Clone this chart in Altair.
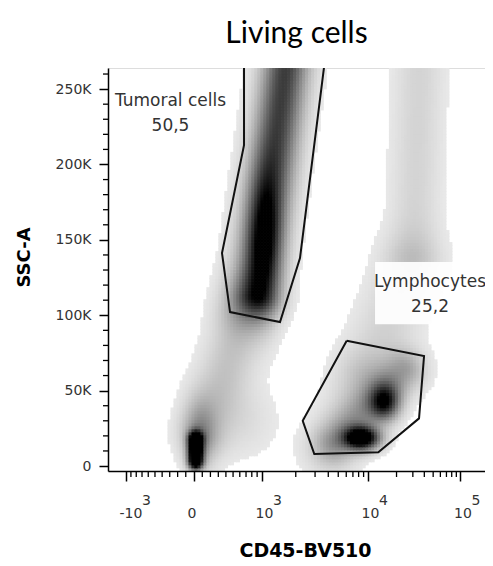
import numpy as np
import pandas as pd
import altair as alt

alt.data_transformers.disable_max_rows()

# ---------------- values ----------------
# CD45 axis (biexponential display), raw values
x_domain_raw = [-1450, 187100]
y_domain = [-3300, 264000]
x_major_raw = [-1000, 0, 1000, 10000, 100000]
x_major_base = ["-10", "0", "10", "10", "10"]
x_major_exp = ["3", "", "3", "4", "5"]
x_minor_raw = ([-900, -800, -700, -600, -500, -400, -300, -200, -100,
                100, 200, 300, 400, 500, 600, 700, 800, 900]
               + [2000, 3000, 4000, 5000, 6000, 7000, 8000, 9000]
               + [20000, 30000, 40000, 50000, 60000, 70000, 80000, 90000])
y_major = [0, 50000, 100000, 150000, 200000, 250000]
y_minor = [v for v in range(10000, 270000, 10000) if v % 50000 != 0]

# density components (capsules): end points in raw units, spread (display decades / SSC), weight
comp_x1 = [24, 73, 134, 1671, 1065, 1777, 35900, 27970, 9310, 8668, 15070, 4648, 683]
comp_y1 = [17200, 20550, 23900, 272500, 150000, 275800, 275800, 133300, 57000, 18600, 42400, 15900, 30500]
comp_x2 = [24, 73, 768, 917, 1065, 683, 30900, 10490, 4157, 8668, 15070, 24690, 683]
comp_y2 = [4000, 20550, 110100, 113400, 150000, 103400, 143200, 63600, 10600, 18600, 42400, 63600, 30500]
comp_sx = [0.055, 0.123, 0.2, 0.168, 0.123, 0.2, 0.19, 0.246, 0.224, 0.134, 0.112, 0.156, 0.246]
comp_sy = [4000, 15900, 12000, 9300, 30000, 12000, 13260, 14600, 13260, 5300, 8000, 9300, 16600]
comp_w = [1.5, 0.3, 0.18, 0.58, 0.45, 0.17, 0.11, 0.12, 0.1, 1.2, 0.75, 0.3, 0.07]

# gates
tum_gate_x = [667, 667, 348, 457, 1449, 2183, 3806, 667]
tum_gate_y = [275000, 212800, 141200, 102100, 95500, 137900, 275000, 275000]
lym_gate_x = [6061, 39720, 35030, 12810, 2951, 2310, 6061]
lym_gate_y = [83100, 72900, 31600, 9080, 7960, 30030, 83100]

# gate labels
label_name = ["Tumoral cells", "Lymphocytes"]
label_value = ["50,5", "25,2"]
label_x = [-290, 46210]
label_y = [238700, 118700]
box_x1, box_x2, box_y1, box_y2 = [11830], [212800], [94100], [135300]

# ---------------- biexponential (logicle-like) transform ----------------
P = 3.5


def g(u):
    return 10 ** u - P * P * 10 ** (-u / P) + P * P - 1


C = 1000.0 / g(0.76)


def to_disp(x):
    x = np.asarray(x, dtype=float)
    s = np.sign(x)
    a = np.abs(x) / C
    lo = np.zeros_like(a)
    hi = np.full_like(a, 6.0)
    for _ in range(60):
        mid = (lo + hi) / 2
        big = g(mid) > a
        hi = np.where(big, mid, hi)
        lo = np.where(big, lo, mid)
    return s * (lo + hi) / 2


U0, U1 = [float(v) for v in to_disp(x_domain_raw)]
Y0, Y1 = y_domain

# ---------------- density grid ----------------
nx, ny = 126, 134
ue = np.linspace(U0, U1, nx + 1)
ye = np.linspace(Y0, Y1, ny + 1)
uc = (ue[:-1] + ue[1:]) / 2
yc = (ye[:-1] + ye[1:]) / 2
UU, YY = np.meshgrid(uc, yc)
F = np.zeros_like(UU)
a_u = to_disp(comp_x1)
b_u = to_disp(comp_x2)
for i in range(len(comp_w)):
    sx, sy = comp_sx[i], comp_sy[i]
    px, py = UU / sx, YY / sy
    ax, ay = a_u[i] / sx, comp_y1[i] / sy
    bx, by = b_u[i] / sx, comp_y2[i] / sy
    dx, dy = bx - ax, by - ay
    L2 = dx * dx + dy * dy
    if L2 > 0:
        t = np.clip(((px - ax) * dx + (py - ay) * dy) / L2, 0, 1)
    else:
        t = np.zeros_like(px)
    d2 = (px - ax - t * dx) ** 2 + (py - ay - t * dy) ** 2
    F += comp_w[i] * np.exp(-d2 / 2)

du = (U1 - U0) / nx
dyc = (Y1 - Y0) / ny
mask = F >= 0.025
dens = pd.DataFrame({
    "x0": np.round(UU[mask] - du * 0.62, 5),
    "x1": np.round(UU[mask] + du * 0.62, 5),
    "y0": np.round(YY[mask] - dyc * 0.62, 1),
    "y1": np.round(YY[mask] + dyc * 0.62, 1),
    "d": np.round(F[mask], 3),
})

xs = alt.Scale(domain=[U0, U1], nice=False, zero=False)
ys = alt.Scale(domain=[Y0, Y1], nice=False, zero=False)

# x axis labels (base part; exponents drawn as text)
u_major = to_disp(x_major_raw)
expr = f"'{x_major_base[-1]}'"
for i in reversed(range(len(x_major_base) - 1)):
    thr = (u_major[i] + u_major[i + 1]) / 2
    expr = f"datum.value < {thr:.4f} ? '{x_major_base[i]}' : ({expr})"

x_axis = alt.Axis(values=[float(v) for v in u_major], labelExpr=expr, labelAlign="left",
                  labelOffset=-7, labelBaseline="alphabetic", labelPadding=36,
                  labelFont="DejaVu Sans", labelFontSize=14, labelColor="#333",
                  labelOverlap=False, labelFlush=False,
                  tickSize=10, tickWidth=1.5, tickColor="black",
                  domainColor="black", domainWidth=1.5, grid=False, zindex=2,
                  title="CD45-BV510", titleFont="DejaVu Sans", titleFontSize=19,
                  titleFontWeight="bold", titleColor="black", titleX=197, titleY=79,
                  titleAlign="center", titleBaseline="middle")
y_axis = alt.Axis(values=y_major,
                  labelExpr="datum.value == 0 ? '0' : format(datum.value/1000, 'd') + 'K'",
                  labelFont="DejaVu Sans", labelFontSize=14, labelColor="#333",
                  labelPadding=8, tickSize=9, tickWidth=1.5, tickColor="black",
                  domainColor="black", domainWidth=1.5, grid=False, zindex=2,
                  title="SSC-A", titleFont="DejaVu Sans", titleFontSize=18,
                  titleFontWeight="bold", titleColor="black", titleX=-84, titleY=189,
                  titleAngle=270, titleAlign="center", titleBaseline="middle")

density = alt.Chart(dens).mark_rect(clip=True, strokeWidth=0).encode(
    x=alt.X("x0:Q", scale=xs, axis=x_axis),
    x2="x1:Q",
    y=alt.Y("y0:Q", scale=ys, axis=y_axis),
    y2="y1:Q",
    color=alt.Color("d:Q", scale=alt.Scale(domain=[0, 1.0], range=["#eeeeee", "#000000"],
                                           clamp=True, interpolate="rgb"), legend=None),
)

gates = pd.DataFrame({
    "gate": ["T"] * len(tum_gate_x) + ["L"] * len(lym_gate_x),
    "i": list(range(len(tum_gate_x))) + list(range(len(lym_gate_x))),
    "u": list(to_disp(tum_gate_x)) + list(to_disp(lym_gate_x)),
    "y": tum_gate_y + lym_gate_y,
})
gate_lines = alt.Chart(gates).mark_line(clip=True, color="#111", strokeWidth=2).encode(
    x=alt.X("u:Q", scale=xs, axis=x_axis),
    y=alt.Y("y:Q", scale=ys, axis=y_axis),
    detail="gate:N",
    order="i:Q",
)

boxes = pd.DataFrame({"a": to_disp(box_x1), "b": to_disp(box_x2), "c": box_y1, "e": box_y2})
box = alt.Chart(boxes).mark_rect(color="white", opacity=0.92, clip=True).encode(
    x=alt.X("a:Q", scale=xs, axis=x_axis), x2="b:Q",
    y=alt.Y("c:Q", scale=ys, axis=y_axis), y2="e:Q",
)

labels = pd.DataFrame({
    "u": to_disp(label_x),
    "y": label_y,
    "t": [n + "\n" + v for n, v in zip(label_name, label_value)],
})
label_text = alt.Chart(labels).mark_text(
    align="center", baseline="alphabetic", font="DejaVu Sans", fontSize=17,
    lineHeight=25, lineBreak="\n", color="#333").encode(
    x=alt.X("u:Q", scale=xs, axis=x_axis),
    y=alt.Y("y:Q", scale=ys, axis=y_axis),
    text="t:N",
)

# exponents of the x tick labels
exps = pd.DataFrame({"u": u_major, "t": x_major_exp, "neg": [v < 0 for v in x_major_raw]})
exp_neg = alt.Chart(exps).transform_filter("datum.neg").mark_text(
    align="left", baseline="alphabetic", dx=16, font="DejaVu Sans", fontSize=14,
    color="#333").encode(
    x=alt.X("u:Q", scale=xs, axis=x_axis), y=alt.value(437), text="t:N")
exp_pos = alt.Chart(exps).transform_filter("!datum.neg").mark_text(
    align="left", baseline="alphabetic", dx=11, font="DejaVu Sans", fontSize=14,
    color="#333").encode(
    x=alt.X("u:Q", scale=xs, axis=x_axis), y=alt.value(437), text="t:N")

xminor = pd.DataFrame({"u": to_disp(x_minor_raw)})
x_minor_rules = alt.Chart(xminor).mark_rule(color="black", strokeWidth=1.3).encode(
    x=alt.X("u:Q", scale=xs, axis=x_axis),
    y=alt.value(403), y2=alt.value(409),
)
yminor = pd.DataFrame({"y": y_minor})
y_minor_rules = alt.Chart(yminor).mark_rule(color="black", strokeWidth=1.3).encode(
    y=alt.Y("y:Q", scale=ys, axis=y_axis),
    x=alt.value(-5), x2=alt.value(0),
)

chart = alt.layer(density, gate_lines, box, label_text, exp_neg, exp_pos,
                  x_minor_rules, y_minor_rules).properties(
    width=377, height=403,
    autosize=alt.AutoSizeParams(type="none"),
    padding={"left": 100, "top": 60, "right": 0, "bottom": 92},
    title=alt.TitleParams("Living cells", font="Lato", fontSize=30, fontWeight="normal",
                          color="black", anchor="middle", baseline="bottom", offset=24,
                          frame="group", dy=35),
).configure_view(stroke="#333", strokeWidth=1.5).configure(background="white")

chart.save("out.html", embed_options={"renderer": "svg", "actions": False})
